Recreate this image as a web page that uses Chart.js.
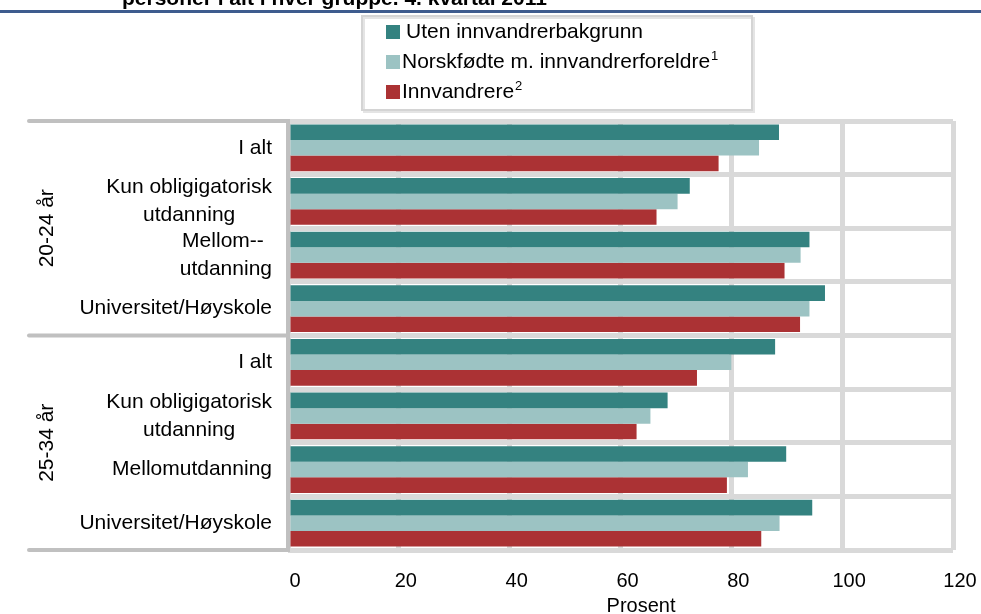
<!DOCTYPE html>
<html><head><meta charset="utf-8">
<script src="https://cdn.jsdelivr.net/npm/chart.js@4/dist/chart.umd.min.js"></script>
<style>html,body{margin:0;padding:0;background:#fff;overflow:hidden}#wrap{position:relative;width:981px;height:614px}</style>
</head><body><div id="wrap"><canvas id="c" width="981" height="614"></canvas></div>
<script>
// ---- data ----
const categories = [["I alt"],["Kun obligigatorisk","utdanning"],["Mellom-- ","utdanning"],["Universitet/Høyskole"],
                    ["I alt"],["Kun obligigatorisk","utdanning"],["Mellomutdanning"],["Universitet/Høyskole"]];
const groups = ["20-24 år","25-34 år"];
const seriesNames = ["Uten innvandrerbakgrunn","Norskfødte m. innvandrerforeldre","Innvandrere"];
const seriesSup = ["","1","2"];
const utenInnvandrerbakgrunn = [88.6,72.5,94.1,96.9,87.9,68.5,89.9,94.6];
const norskfodte = [85.0,70.3,92.5,94.1,80.0,65.4,83.0,88.7];
const innvandrere = [77.7,66.5,89.6,92.4,73.8,62.9,79.2,85.4];
const xTicks = [0,20,40,60,80,100,120];
const titleText = "personer i alt i hver gruppe. 4. kvartal 2011";
const axisTitle = "Prosent";

const colors = ["#348280","#9cc3c3","#ab3234"];
const FONT = '"Liberation Sans", Arial, sans-serif';

const deco = {
  id: 'deco',
  afterDraw(chart) {
    const ctx = chart.ctx, ca = chart.chartArea, ys = chart.scales.y;
    ctx.save();
    // top rule and clipped title
    ctx.fillStyle = '#3e5c8e';
    ctx.fillRect(0, 10, 981, 3);
    ctx.fillStyle = '#000';
    ctx.font = 'bold 21px ' + FONT;
    ctx.textAlign = 'left'; ctx.textBaseline = 'alphabetic';
    ctx.fillText(titleText, 122, 5);

    // axis line and extended group separators
    const mid = (ys.getPixelForValue(3) + ys.getPixelForValue(4)) / 2;
    ctx.strokeStyle = '#c0c0c0'; ctx.lineWidth = 4; ctx.lineCap = 'round';
    [ca.top, mid, ca.bottom].forEach(yy => {
      ctx.beginPath(); ctx.moveTo(29, yy); ctx.lineTo(ca.left, yy); ctx.stroke();
    });
    ctx.lineCap = 'butt';
    ctx.beginPath(); ctx.moveTo(ca.left, ca.top - 2); ctx.lineTo(ca.left, ca.bottom + 2); ctx.stroke();

    // category labels
    ctx.fillStyle = '#000';
    ctx.font = '21px ' + FONT;
    ctx.textBaseline = 'middle'; ctx.textAlign = 'center';
    const lh = 27.7;
    categories.forEach((lines, i) => {
      const cy = ys.getPixelForValue(i);
      const w = Math.max(...lines.map(l => ctx.measureText(l).width));
      const cx = 272 - w / 2;
      lines.forEach((l, k) => {
        ctx.fillText(l, cx, cy + (k - (lines.length - 1) / 2) * lh);
      });
    });
    // group labels
    const gc = [(ca.top + mid) / 2, (mid + ca.bottom) / 2];
    groups.forEach((g, i) => {
      ctx.save();
      ctx.translate(47, gc[i]);
      ctx.rotate(-Math.PI / 2);
      ctx.fillText(g, 0, 0);
      ctx.restore();
    });
    // axis title
    ctx.font = '20px ' + FONT;
    ctx.fillText(axisTitle, 641, 606);

    // legend
    ctx.fillStyle = '#fff';
    ctx.fillRect(362, 16, 390, 94);
    ctx.strokeStyle = '#e4e4e4'; ctx.lineWidth = 2;
    ctx.strokeRect(364, 18, 390, 94);
    ctx.strokeStyle = '#d4d4d4'; ctx.lineWidth = 2;
    ctx.strokeRect(362, 16, 390, 94);
    const base = [38, 68, 98];
    seriesNames.forEach((n, i) => {
      ctx.fillStyle = colors[i];
      ctx.fillRect(386, base[i] - 13, 14, 14);
      ctx.fillStyle = '#000';
      ctx.font = '21px ' + FONT;
      ctx.textAlign = 'left'; ctx.textBaseline = 'alphabetic';
      const tx = i === 0 ? 406 : 402;
      ctx.fillText(n, tx, base[i]);
      if (seriesSup[i]) {
        const w = ctx.measureText(n).width;
        ctx.font = '13px ' + FONT;
        ctx.fillText(seriesSup[i], tx + w + 1, base[i] - 8);
      }
    });
    ctx.restore();
  }
};

new Chart(document.getElementById('c'), {
  type: 'bar',
  data: {
    labels: categories,
    datasets: [
      { label: seriesNames[0], data: utenInnvandrerbakgrunn, backgroundColor: colors[0] },
      { label: seriesNames[1], data: norskfodte, backgroundColor: colors[1] },
      { label: seriesNames[2], data: innvandrere, backgroundColor: colors[2] }
    ]
  },
  options: {
    indexAxis: 'y',
    responsive: false,
    animation: false,
    devicePixelRatio: 1,
    categoryPercentage: 0.87,
    barPercentage: 1.0,
    layout: { padding: { top: 121, right: 28, left: 0, bottom: 0 } },
    plugins: { legend: { display: false }, tooltip: { enabled: false } },
    scales: {
      x: {
        min: 0, max: 120,
        afterBuildTicks(s) { s.ticks = xTicks.map(v => ({ value: v })); },
        afterFit(s) { s.height = 64; s.paddingLeft = 0; s.paddingRight = 0; },
        grid: { color: '#d9d9d9', lineWidth: 5, drawTicks: false },
        border: { display: false },
        ticks: { color: '#000', font: { size: 20, family: FONT }, padding: 19, labelOffset: 7, maxRotation: 0 }
      },
      y: {
        afterFit(s) { s.width = 288; s.paddingTop = 0; s.paddingBottom = 0; },
        grid: { color: '#d9d9d9', lineWidth: 5, drawTicks: false, offset: true },
        border: { display: false },
        ticks: { display: false }
      }
    }
  },
  plugins: [deco]
});
</script></body></html>
